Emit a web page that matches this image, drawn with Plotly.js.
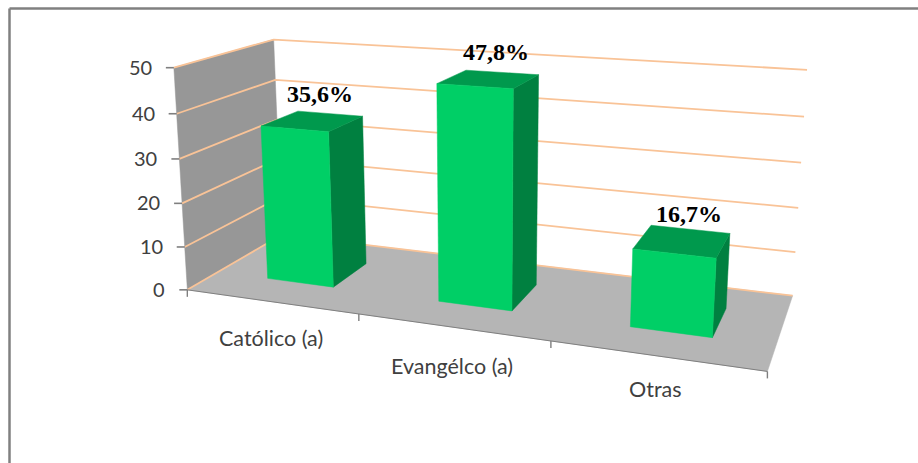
<!DOCTYPE html>
<html><head><meta charset="utf-8">
<script src="https://cdn.plot.ly/plotly-3.0.1.min.js"></script>
<style>html,body{margin:0;padding:0;background:#fff}#c{width:918px;height:463px}</style>
</head><body><div id="c"></div>
<script>
const categories = ["Católico (a)", "Evangélco (a)", "Otras"];
const values = [35.6, 47.8, 16.7];
const dataLabels = ["35,6%", "47,8%", "16,7%"];
const yTicks = [0, 10, 20, 30, 40, 50];

const yMax = 50;
const corr = [[0,0,0,188,290],[1,0,0,767,372],[0,1,0,281,235],[1,1,0,793,295],[0,0,1,173.5,67],[0,1,1,274,40],[1,1,1,807,70]];
function solve(A,b){const n=b.length;const M=A.map((r,i)=>[...r,b[i]]);
 for(let i=0;i<n;i++){let m=i;for(let k=i+1;k<n;k++)if(Math.abs(M[k][i])>Math.abs(M[m][i]))m=k;[M[i],M[m]]=[M[m],M[i]];
  for(let k=0;k<n;k++){if(k===i)continue;const f=M[k][i]/M[i][i];for(let j=i;j<=n;j++)M[k][j]-=f*M[i][j];}}
 return M.map((r,i)=>r[n]/r[i]);}
function fit(){const R=[],B=[];
 corr.forEach(([u,v,h,X,Y])=>{
  R.push([u,v,h,1,0,0,0,0,-X*u,-X*v,-X*h]);B.push(X);
  R.push([0,0,0,0,u,v,h,1,-Y*u,-Y*v,-Y*h]);B.push(Y);});
 const n=11,AtA=Array.from({length:n},()=>Array(n).fill(0)),Atb=Array(n).fill(0);
 R.forEach((r,i)=>{for(let a=0;a<n;a++){Atb[a]+=r[a]*B[i];for(let c=0;c<n;c++)AtA[a][c]+=r[a]*r[c];}});
 for(let a=0;a<n;a++)AtA[a][a]+=1e-9;
 return solve(AtA,Atb);}
const P=fit();
function proj(u,v,val){const h=val/yMax;const w=P[8]*u+P[9]*v+P[10]*h+1;
 return [(P[0]*u+P[1]*v+P[2]*h+P[3])/w,(P[4]*u+P[5]*v+P[6]*h+P[7])/w];}

const traces=[];
function poly(pts,color,name){traces.push({type:'scatter',mode:'lines',x:[...pts.map(p=>p[0]),pts[0][0]],y:[...pts.map(p=>p[1]),pts[0][1]],fill:'toself',fillcolor:color,line:{width:0.5,color:color},hoverinfo:'skip',showlegend:false,name:name||''});}
function line(pts,color,w){traces.push({type:'scatter',mode:'lines',x:pts.map(p=>p[0]),y:pts.map(p=>p[1]),line:{color:color,width:w},hoverinfo:'skip',showlegend:false});}

const WALL='#979797',FLOOR='#b5b5b5',GRID='#f9c397',AX='#7f7f7f';
poly([proj(0,0,0),proj(0,1,0),proj(0,1,yMax),proj(0,0,yMax)],WALL,'wall');
poly([proj(0,0,0),proj(1,0,0),proj(1,1,0),proj(0,1,0)],FLOOR,'floor');
yTicks.forEach(t=>{line([proj(0,0,t),proj(0,1,t),proj(1,1,t)],GRID,1.8);});
line([proj(0,0,0),proj(1,0,0)],AX,1);
[0,1/3,2/3,1].forEach(u=>{const a=proj(u,0,0);line([a,[a[0],a[1]+7]],AX,1.4);});
yTicks.forEach(t=>{const a=proj(0,0,t);line([[a[0]-8,a[1]],a],AX,1.6);});

const hw=[0.066,0.066,0.066],uc=[0.169,0.502,0.836],v0=0.3,v1=0.7;
values.forEach((val,i)=>{const a=uc[i]-hw[i],b=uc[i]+hw[i];
 poly([proj(b,v0,0),proj(b,v1,0),proj(b,v1,val),proj(b,v0,val)],'#008040','side');
 poly([proj(a,v0,val),proj(b,v0,val),proj(b,v1,val),proj(a,v1,val)],'#00994d','top');
 poly([proj(a,v0,0),proj(b,v0,0),proj(b,v0,val),proj(a,v0,val)],'#00cf66','front');
});

const annotations=[];
const tickFont={family:'Lato, Carlito, sans-serif',size:20,color:'#404040'};
const catFont={family:'Lato, Carlito, sans-serif',size:21.5,color:'#404040'};
const labelDrop=[36,39,33];
yTicks.forEach(t=>{const a=proj(0,0,t);annotations.push({x:a[0]-20,y:a[1]-1,xref:'x',yref:'y',xanchor:'right',yanchor:'middle',showarrow:false,text:String(t),font:tickFont});});
categories.forEach((c,i)=>{const a=proj(1/6+i/3,0,0);annotations.push({x:a[0],y:a[1]+labelDrop[i],xref:'x',yref:'y',xanchor:'center',yanchor:'middle',showarrow:false,text:c,font:catFont});});
values.forEach((val,i)=>{const a=proj(uc[i],(v0+v1)/2,val);annotations.push({x:a[0]+7,y:a[1]-27,xref:'x',yref:'y',xanchor:'center',yanchor:'middle',showarrow:false,text:dataLabels[i],font:{family:'Liberation Serif, serif',size:24,color:'#000',weight:700}});});

const shapes=[{type:'line',xref:'x',yref:'y',x0:9.5,y0:463,x1:9.5,y1:8.5,line:{color:'#808080',width:2.5}},{type:'line',xref:'x',yref:'y',x0:9.5,y0:8.5,x1:918,y1:8.5,line:{color:'#808080',width:2.5}}];

Plotly.newPlot('c',traces,{width:918,height:463,margin:{l:0,r:0,t:0,b:0},paper_bgcolor:'#fff',plot_bgcolor:'#fff',showlegend:false,
 xaxis:{range:[0,918],visible:false,fixedrange:true},yaxis:{range:[463,0],visible:false,fixedrange:true},annotations,shapes},{displayModeBar:false,staticPlot:true});
</script></body></html>
